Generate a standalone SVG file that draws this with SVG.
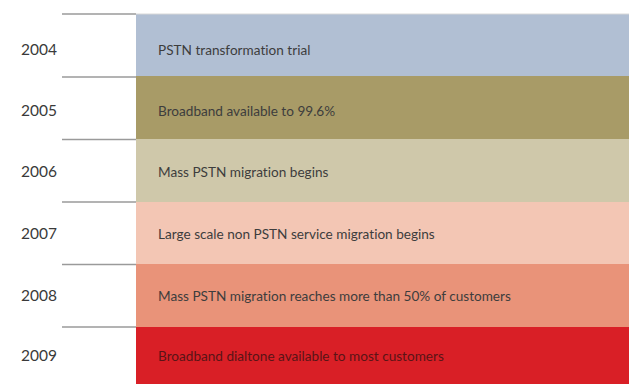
<svg xmlns="http://www.w3.org/2000/svg" width="629" height="384" viewBox="0 0 629 384">
  <style>
    .year { font-family: Lato, "Liberation Sans", sans-serif; font-size: 15.5px; fill: #3a3a3a; text-anchor: end; }
    .label { font-family: Lato, "Liberation Sans", sans-serif; font-size: 13.6px; fill: #3d3d3d; font-variant-ligatures: none; }
    .tick { stroke: #9a9a9a; stroke-width: 1.5; }
  </style>
  <rect width="629" height="384" fill="#ffffff"/>

  <g id="row-2004">
    <rect x="136" y="14" width="493" height="62" fill="#b1bfd3"/>
    <line x1="136" y1="14" x2="629" y2="14" stroke="#d8d8d8" stroke-width="1"/>
    <text class="year" x="57" y="55">2004</text>
    <text class="label" x="158" y="55">PSTN transformation trial</text>
  </g>
  <g id="row-2005">
    <rect x="136" y="76" width="493" height="63" fill="#a89b67"/>
    <text class="year" x="57" y="116">2005</text>
    <text class="label" x="158" y="116">Broadband available to 99.6%</text>
  </g>
  <g id="row-2006">
    <rect x="136" y="139" width="493" height="63" fill="#cfc8aa"/>
    <text class="year" x="57" y="177">2006</text>
    <text class="label" x="158" y="177">Mass PSTN migration begins</text>
  </g>
  <g id="row-2007">
    <rect x="136" y="202" width="493" height="62" fill="#f3c6b4"/>
    <text class="year" x="57" y="239">2007</text>
    <text class="label" x="158" y="239">Large scale non PSTN service migration begins</text>
  </g>
  <g id="row-2008">
    <rect x="136" y="264" width="493" height="63" fill="#e99379"/>
    <text class="year" x="57" y="301">2008</text>
    <text class="label" x="158" y="301">Mass PSTN migration reaches more than 50% of customers</text>
  </g>
  <g id="row-2009">
    <rect x="136" y="327" width="493" height="57" fill="#d91f26"/>
    <text class="year" x="57" y="361">2009</text>
    <text class="label" x="158" y="361" style="fill:#5a1416">Broadband dialtone available to most customers</text>
  </g>

  <g id="connectors">
    <line class="tick" x1="62" y1="14" x2="136" y2="14"/>
    <line class="tick" x1="62" y1="77" x2="136" y2="77"/>
    <line class="tick" x1="62" y1="139.5" x2="136" y2="139.5"/>
    <line class="tick" x1="62" y1="202" x2="136" y2="202"/>
    <line class="tick" x1="62" y1="264.5" x2="136" y2="264.5"/>
    <line class="tick" x1="62" y1="327" x2="136" y2="327"/>
  </g>
</svg>
